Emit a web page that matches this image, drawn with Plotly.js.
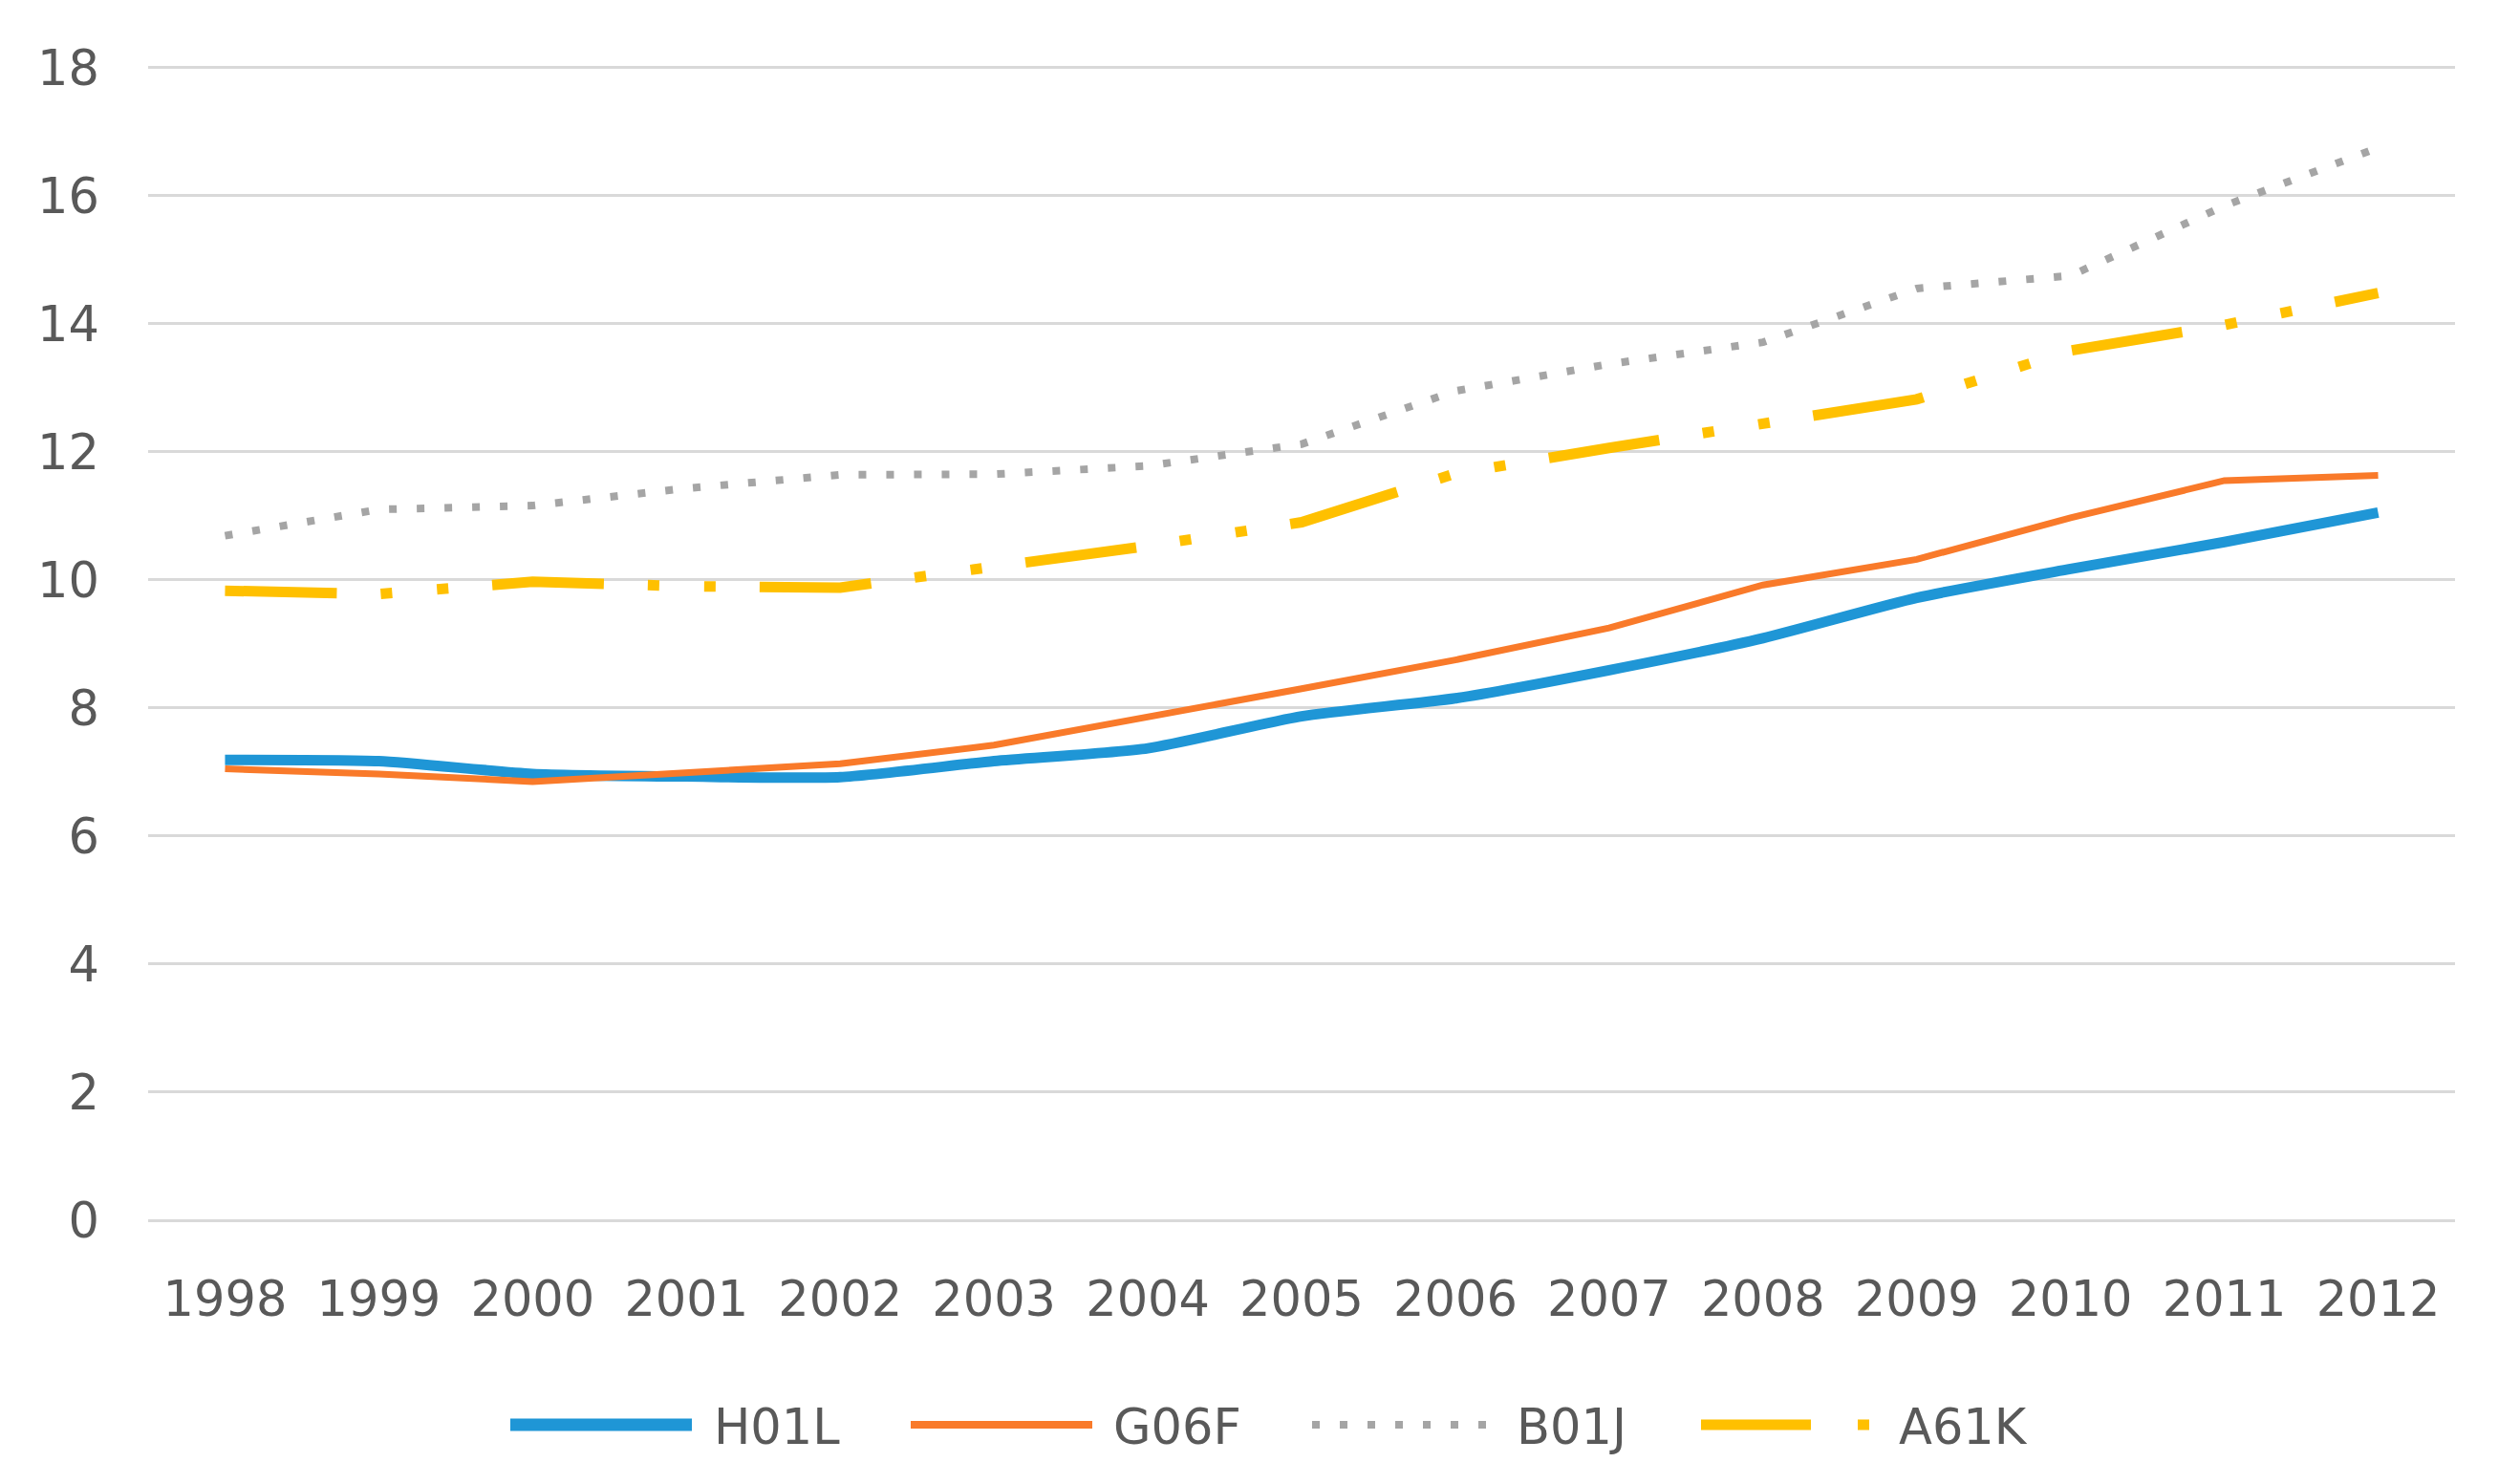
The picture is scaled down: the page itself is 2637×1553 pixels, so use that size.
<!DOCTYPE html>
<html>
<head>
<meta charset="utf-8">
<script src="https://cdn.plot.ly/plotly-3.0.1.min.js"></script>
<style>html,body{margin:0;padding:0;background:#fff;}#chart{width:2637px;height:1553px;}</style>
</head>
<body>
<div id="chart"></div>
<script>
var years = ["1998","1999","2000","2001","2002","2003","2004","2005","2006","2007","2008","2009","2010","2011","2012"];
var seriesNames = ["H01L","G06F","B01J","A61K"];
var h01l = [7.19, 7.17, 6.97, 6.93, 6.92, 7.17, 7.37, 7.87, 8.15, 8.59, 9.09, 9.72, 10.17, 10.59, 11.05];
var g06f = [7.05, 6.97, 6.85, 7.00, 7.13, 7.42, 7.85, 8.30, 8.75, 9.25, 9.92, 10.32, 10.97, 11.55, 11.63];
var b01j = [10.69, 11.10, 11.16, 11.43, 11.64, 11.65, 11.78, 12.12, 12.95, 13.37, 13.71, 14.55, 14.75, 15.84, 16.75];
var a61k = [9.83, 9.78, 9.97, 9.90, 9.88, 10.19, 10.53, 10.90, 11.66, 12.06, 12.46, 12.82, 13.58, 13.98, 14.48];
var yTicks = [0, 2, 4, 6, 8, 10, 12, 14, 16, 18];

var colors = ["#1F96D6", "#F97A2A", "#A5A5A5", "#FFC000"];
var widths = [11, 7, 8, 11];
var dashes = ["solid", "solid", "8px,21px", "117px,46px,12px,47px,12px,46px"];
var shapesLine = ["spline", "linear", "linear", "linear"];
var allData = [h01l, g06f, b01j, a61k];

var W = 2637, H = 1553;
var mL = 155, mR = 68, mT = 64, mB = 276;
var plotW = W - mL - mR, plotH = H - mT - mB;
function px2x(p){ return (p - mL) / plotW; }
function px2y(p){ return (H - mB - p) / plotH; }

var traces = allData.map(function(d, i){
  return {
    x: years, y: d, type: "scatter", mode: "lines", name: seriesNames[i],
    line: {color: colors[i], width: widths[i], dash: dashes[i], shape: shapesLine[i], smoothing: 0.6},
    showlegend: false, hoverinfo: "skip"
  };
});

var font = {family: "DejaVu Sans", size: 51, color: "#595959"};

// custom legend (long keys like the original)
var legY = 1491;
var legItems = [
  {x0: 534, x1: 724, tx: 746, dash: "solid"},
  {x0: 953, x1: 1143, tx: 1164, dash: "solid"},
  {x0: 1373, x1: 1566, tx: 1586, dash: "8px,21px"},
  {x0: 1780, x1: 1962, tx: 1986, dash: "115px,49px,12px,100px"}
];
var shapes = [], annotations = [];
legItems.forEach(function(it, i){
  shapes.push({type: "line", xref: "paper", yref: "paper",
    x0: px2x(it.x0), x1: px2x(it.x1), y0: px2y(legY), y1: px2y(legY),
    line: {color: colors[i], width: i === 0 ? 13 : (i === 1 ? 8 : widths[i]), dash: it.dash}});
  annotations.push({xref: "paper", yref: "paper", x: px2x(it.tx), y: px2y(legY + 2),
    xanchor: "left", yanchor: "middle", text: seriesNames[i], showarrow: false,
    font: font, borderpad: 0});
});

var layout = {
  width: W, height: H,
  margin: {l: mL, r: mR, t: mT, b: mB, pad: 0},
  paper_bgcolor: "#ffffff", plot_bgcolor: "#ffffff",
  showlegend: false,
  font: font,
  xaxis: {
    type: "category", range: [-0.5, 14.5], showgrid: false, zeroline: false,
    showline: false, ticks: "", tickfont: font, ticklabelstandoff: 48, fixedrange: true
  },
  yaxis: {
    range: [0, 18.1], tickvals: yTicks, ticktext: yTicks.map(String),
    showgrid: true, gridcolor: "#D9D9D9", gridwidth: 3,
    zeroline: true, zerolinecolor: "#D9D9D9", zerolinewidth: 3,
    showline: false, ticks: "", tickfont: font, ticklabelstandoff: 50, fixedrange: true
  },
  shapes: shapes,
  annotations: annotations
};

Plotly.newPlot("chart", traces, layout, {staticPlot: true, displayModeBar: false});
</script>
</body>
</html>
